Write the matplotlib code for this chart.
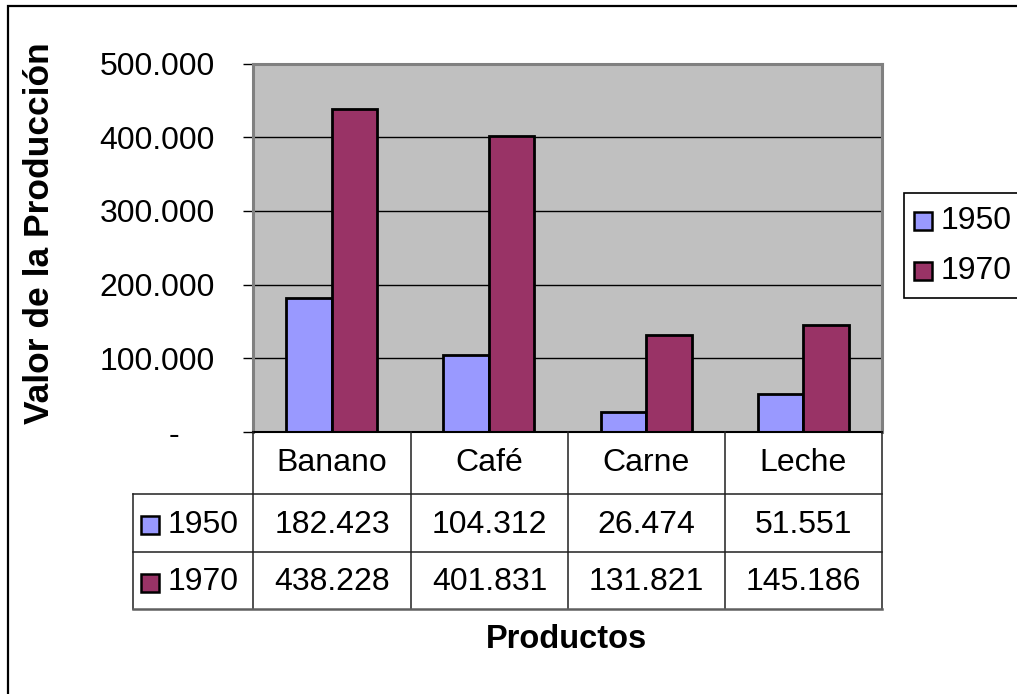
import matplotlib
matplotlib.use("Agg")
import matplotlib.pyplot as plt
from matplotlib.patches import Rectangle
from matplotlib.lines import Line2D
from matplotlib.ticker import FuncFormatter, MultipleLocator

plt.rcParams['font.family'] = ['Liberation Sans', 'DejaVu Sans']

categories = ["Banano", "Café", "Carne", "Leche"]
series_names = ["1950", "1970"]
values_1950 = [182423, 104312, 26474, 51551]
values_1970 = [438228, 401831, 131821, 145186]
colors = ["#9999FF", "#993366"]
y_label = "Valor de la Producción"
x_label = "Productos"

W, H = 1017, 694
DPI = 100
fig = plt.figure(figsize=(W / DPI, H / DPI), dpi=DPI)


def fx(px):
    return px / W


def fy(py):
    return 1 - py / H


def fmt(v):
    return "-" if v == 0 else f"{v:,.0f}".replace(",", ".")


def tick_fmt(v, p):
    return "-    " if v == 0 else fmt(v)


FS = 23

# outer frame
fig.patches.append(Rectangle((fx(8), fy(720)), fx(1040) - fx(8), fy(6) - fy(720),
                             transform=fig.transFigure, fill=False,
                             edgecolor="black", lw=1.6, zorder=0))

L, R, T, B = 253, 882, 63.5, 432
ax = fig.add_axes([fx(L), fy(B), fx(R) - fx(L), fy(T) - fy(B)])
ax.set_facecolor("#C0C0C0")
n = len(categories)
xs = list(range(n))
bw = 0.29
ax.bar([x - bw / 2 for x in xs], values_1950, width=bw, color=colors[0],
       edgecolor="black", lw=2, zorder=3)
ax.bar([x + bw / 2 for x in xs], values_1970, width=bw, color=colors[1],
       edgecolor="black", lw=2, zorder=3)
ax.set_xlim(-0.5, n - 0.5)
ax.set_ylim(0, 500000)
ax.yaxis.set_major_locator(MultipleLocator(100000))
ax.yaxis.set_major_formatter(FuncFormatter(tick_fmt))
ax.grid(axis="y", color="black", lw=1, zorder=1)
ax.set_xticks([])
ax.tick_params(axis="y", length=7.5, width=1, direction="out", pad=20,
               labelsize=FS)
for s in ["top", "right", "left"]:
    ax.spines[s].set_color("#808080")
    ax.spines[s].set_linewidth(2.2)
ax.spines["bottom"].set_color("black")
ax.spines["bottom"].set_linewidth(1.5)
ax.spines["bottom"].set_zorder(5)

fig.text(fx(40), fy(233), y_label, rotation=90, ha="center", va="center",
         fontsize=25.5, fontweight="bold")
fig.text(fx(567), fy(640), x_label, ha="center", va="center",
         fontsize=23.5, fontweight="bold")

# data table
col_edges = [253, 411, 568, 725, 882]
row_edges = [432, 494, 552, 609]
lab_left = 133
lc = "#202020"
tlw = 1.1


def hline(y, x0, x1, c=lc, lw=tlw):
    fig.add_artist(Line2D([fx(x0), fx(x1)], [fy(y), fy(y)], color=c, lw=lw,
                          transform=fig.transFigure))


def vline(x, y0, y1, c=lc, lw=tlw):
    fig.add_artist(Line2D([fx(x), fx(x)], [fy(y0), fy(y1)], color=c, lw=lw,
                          transform=fig.transFigure))


for xe in col_edges:
    vline(xe, row_edges[0], row_edges[-1])
vline(lab_left, row_edges[1], row_edges[-1])
hline(row_edges[1], lab_left, col_edges[-1])
hline(row_edges[2], lab_left, col_edges[-1])
hline(row_edges[3], lab_left, col_edges[-1], c="#606060", lw=1.8)

for i, c in enumerate(categories):
    cx = (col_edges[i] + col_edges[i + 1]) / 2
    fig.text(fx(cx), fy((row_edges[0] + row_edges[1]) / 2), c,
             ha="center", va="center", fontsize=FS)

for r, (name, vals, col) in enumerate(zip(series_names,
                                          [values_1950, values_1970], colors)):
    cy = (row_edges[r + 1] + row_edges[r + 2]) / 2 + 2
    fig.patches.append(Rectangle((fx(140.5), fy(cy + 9)), fx(18), fy(0) - fy(18),
                                 transform=fig.transFigure, facecolor=col,
                                 edgecolor="black", lw=1.8))
    fig.text(fx(168), fy(cy), name, ha="left", va="center", fontsize=FS)
    for i, v in enumerate(vals):
        cx = (col_edges[i] + col_edges[i + 1]) / 2
        fig.text(fx(cx), fy(cy), fmt(v), ha="center", va="center", fontsize=FS)

# legend
fig.patches.append(Rectangle((fx(904), fy(298)), fx(130), fy(0) - fy(105),
                             transform=fig.transFigure, facecolor="white",
                             edgecolor="black", lw=1.2))
for k, (name, col) in enumerate(zip(series_names, colors)):
    cy = 221 + k * 50
    fig.patches.append(Rectangle((fx(913.5), fy(cy + 9)), fx(18), fy(0) - fy(18),
                                 transform=fig.transFigure, facecolor=col,
                                 edgecolor="black", lw=1.8))
    fig.text(fx(941), fy(cy), name, ha="left", va="center", fontsize=FS)

fig.savefig("out.png", dpi=DPI)
